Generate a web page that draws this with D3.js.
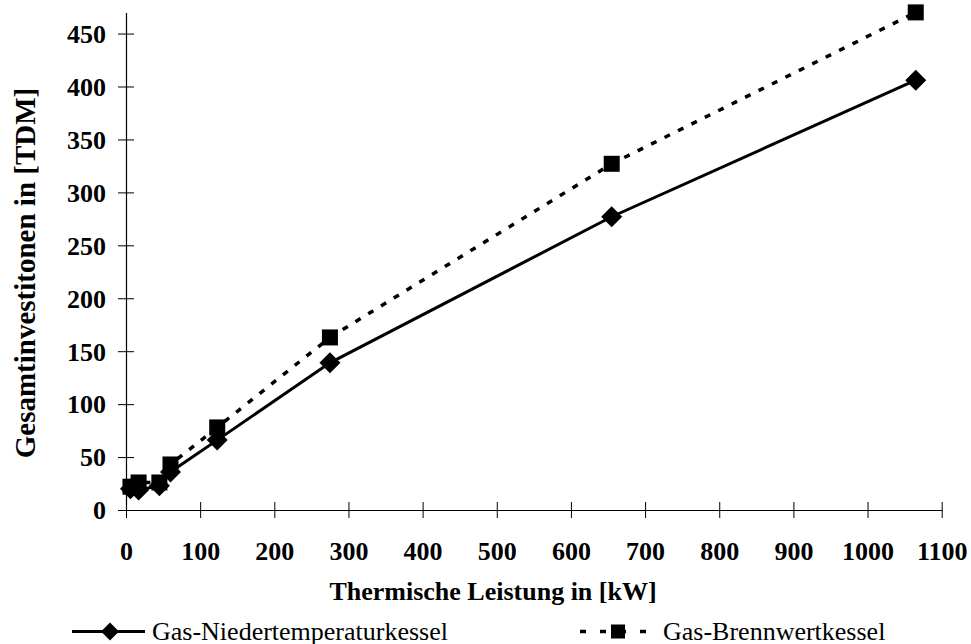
<!DOCTYPE html>
<html>
<head>
<meta charset="utf-8">
<script src="https://cdn.jsdelivr.net/npm/d3@7"></script>
<style>
  html, body { margin: 0; padding: 0; background: #fff; }
  svg { display: block; }
  text { font-family: "Liberation Serif", "Times New Roman", serif; fill: #000; }
</style>
</head>
<body>
<svg id="chart" width="971" height="644"></svg>
<script>
// Thermal output (kW) of the boiler sizes
const leistung = [6, 17, 45, 60, 123, 275, 655, 1065];
// Total investment (TDM) per boiler type
const niedertemperatur = [20, 19, 23, 36, 66, 139, 277, 406];
const brennwert = [22, 26, 26, 43, 78, 163, 327, 470];
const seriesNames = ["Gas-Niedertemperaturkessel", "Gas-Brennwertkessel"];
const xTicks = [0, 100, 200, 300, 400, 500, 600, 700, 800, 900, 1000, 1100];
const yTicks = [0, 50, 100, 150, 200, 250, 300, 350, 400, 450];

const svg = d3.select("#chart");

const x = d3.scaleLinear().domain([0, 1100]).range([126, 941.7]);
const y = d3.scaleLinear().domain([0, 470]).range([510, 12.4]);

// Axes with ticks crossing the axis line
const xAxis = svg.append("g").attr("transform", `translate(0,${y(0)})`)
  .call(d3.axisBottom(x).tickValues(xTicks).tickFormat(d3.format("d"))
    .tickSize(8).tickSizeOuter(0));
xAxis.selectAll(".tick line").attr("y1", -8).attr("y2", 8);
xAxis.select(".domain").attr("stroke-width", 1.2);
xAxis.selectAll(".tick text")
  .style("font-family", "'Liberation Serif', serif")
  .style("font-weight", "bold").style("font-size", "26px")
  .attr("dy", null).attr("y", 50);

const yAxis = svg.append("g").attr("transform", `translate(${x(0)},0)`)
  .call(d3.axisLeft(y).tickValues(yTicks).tickFormat(d3.format("d"))
    .tickSize(8).tickSizeOuter(0));
yAxis.selectAll(".tick line").attr("x1", -8).attr("x2", 8);
yAxis.select(".domain").attr("stroke-width", 1.2);
yAxis.selectAll(".tick text")
  .style("font-family", "'Liberation Serif', serif")
  .style("font-weight", "bold").style("font-size", "26px")
  .attr("x", -20).attr("dy", "0.34em");

// Axis titles
svg.append("text")
  .attr("x", 493).attr("y", 600)
  .attr("text-anchor", "middle")
  .style("font-weight", "bold").style("font-size", "26px")
  .text("Thermische Leistung in [kW]");

svg.append("text")
  .attr("transform", "translate(35,273) rotate(-90)")
  .attr("text-anchor", "middle")
  .style("font-weight", "bold").style("font-size", "29px")
  .text("Gesamtinvestitonen in [TDM]");

// Lines
const line = d3.line().x(d => x(d[0])).y(d => y(d[1]));
const ntData = leistung.map((v, i) => [v, niedertemperatur[i]]);
const bwData = leistung.map((v, i) => [v, brennwert[i]]);

svg.append("path").datum(bwData)
  .attr("d", line).attr("fill", "none").attr("stroke", "#000")
  .attr("stroke-width", 3.5).attr("stroke-dasharray", "6,9");

svg.append("path").datum(ntData)
  .attr("d", line).attr("fill", "none").attr("stroke", "#000")
  .attr("stroke-width", 3);

const diamond = (cx, cy, r) => `M${cx},${cy - r}L${cx + r},${cy}L${cx},${cy + r}L${cx - r},${cy}Z`;
const sq = 16;

svg.append("g").selectAll("rect").data(bwData).join("rect")
  .attr("x", d => x(d[0]) - sq / 2).attr("y", d => y(d[1]) - sq / 2)
  .attr("width", sq).attr("height", sq).attr("fill", "#000");

svg.append("g").selectAll("path").data(ntData).join("path")
  .attr("d", d => diamond(x(d[0]), y(d[1]), 10.5)).attr("fill", "#000");

// Legend
const ly = 631.5;
const leg = svg.append("g");
leg.append("line").attr("x1", 72).attr("x2", 145).attr("y1", ly).attr("y2", ly)
  .attr("stroke", "#000").attr("stroke-width", 3);
leg.append("path").attr("d", diamond(110, ly, 9)).attr("fill", "#000");
leg.append("text").attr("x", 152).attr("y", ly + 8)
  .style("font-size", "26px").text(seriesNames[0]);

leg.append("line").attr("x1", 580).attr("x2", 648).attr("y1", ly).attr("y2", ly)
  .attr("stroke", "#000").attr("stroke-width", 3.5).attr("stroke-dasharray", "6,14");
leg.append("rect").attr("x", 611).attr("y", ly - 7).attr("width", 14).attr("height", 14).attr("fill", "#000");
leg.append("text").attr("x", 663).attr("y", ly + 8)
  .style("font-size", "26px").text(seriesNames[1]);
</script>
</body>
</html>
